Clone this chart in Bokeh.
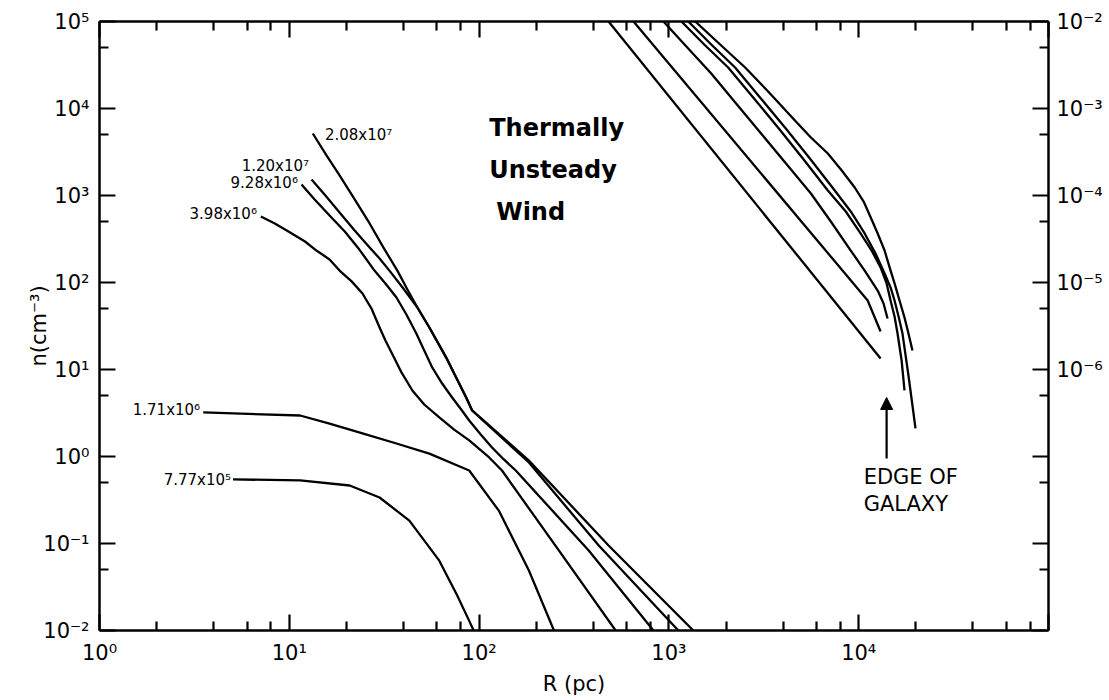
from bokeh.plotting import figure
from bokeh.models import LogAxis, Range1d, FixedTicker, Arrow, NormalHead, Label, LogScale
from bokeh.embed import file_html
from bokeh.resources import INLINE

# ---------------- data ----------------
r_777e5 = [5.05, 11.4, 20.8, 29.9, 42.9, 61.7, 76.7, 88.7, 93.6]
n_777e5 = [0.545, 0.532, 0.464, 0.338, 0.183, 0.0635, 0.0252, 0.0129, 0.01]

r_171e6 = [3.52, 11.4, 16.3, 24.3, 36.7, 54.7, 81.4, 88.7, 127, 183, 248]
n_171e6 = [3.21, 2.96, 2.39, 1.84, 1.41, 1.08, 0.748, 0.690, 0.239, 0.049, 0.01]

r_398e6 = [7.08, 8.39, 10.1, 12.1, 13.9, 16.3, 18.4, 21.3, 24.3, 27.1, 29.9, 32.1, 35.4,
           39.0, 44.5, 51.4, 61.7, 73.9, 88.7, 113, 132, 263, 524]
n_398e6 = [574, 477, 376, 296, 233, 184, 137, 103, 74.8, 50.2, 30.4, 21.5, 14.1,
           9.25, 5.74, 3.96, 2.81, 2.04, 1.53, 0.975, 0.690, 0.0832, 0.01]

r_928e6 = [11.6, 13.6, 16.3, 19.6, 23.4, 28.1, 32.1, 36.7, 41.4, 46.7, 51.4, 56.7, 63.9,
           72.1, 80.5, 88.7, 102, 117, 135, 156, 378, 829]
n_928e6 = [1340, 900, 589, 385, 239, 137, 97.5, 67.3, 42.9, 25.9, 16.5, 10.5, 6.90,
           4.77, 3.47, 2.59, 1.79, 1.27, 0.925, 0.690, 0.0832, 0.01]

r_120e7 = [13.1, 15.5, 18.4, 22.1, 26.5, 29.9, 33.7, 39.9, 47.3, 54.7, 67.1, 75.7, 85.5,
           91.9, 183, 427, 1122]
n_120e7 = [1530, 1000, 638, 396, 253, 189, 137, 85.3, 51.6, 30.4, 13.7, 8.09, 4.77,
           3.38, 0.853, 0.0948, 0.01]

r_208e7 = [13.3, 15.7, 18.4, 22.1, 26.5, 31.3, 37.1, 41.9, 47.3, 54.7, 67.1, 75.7, 85.5,
           91.9, 183, 481, 1345]
n_208e7 = [5160, 2884, 1700, 900, 477, 253, 137, 83.2, 51.6, 30.4, 13.7, 8.09, 4.77,
           3.38, 0.899, 0.0948, 0.01]

inner_r = [r_777e5, r_171e6, r_398e6, r_928e6, r_120e7, r_208e7]
inner_n = [n_777e5, n_171e6, n_398e6, n_928e6, n_120e7, n_208e7]
inner_labels = ["7.77x10\u2075", "1.71x10\u2076", "3.98x10\u2076",
                "9.28x10\u2076", "1.20x10\u2077", "2.08x10\u2077"]

r_out1 = [481, 13040]
n_out1 = [1e5, 13.4]
r_out2 = [651, 11150, 13040]
n_out2 = [1e5, 62.1, 27.3]
r_out3 = [936, 1250, 1671, 2260, 3060, 4140, 5600, 7130, 9080, 10750, 12590, 13520, 14190]
n_out3 = [1e5, 50200, 25200, 11400, 5160, 2330, 1054, 502, 233, 137, 80.9, 57.4, 38.5]
r_out4 = [1164, 1535, 2052, 2780, 3757, 5080, 6876, 8550, 10230, 11700, 13040, 14030,
          14720, 15450, 16020, 16830, 17430]
n_out4 = [1e5, 54400, 29600, 13400, 6050, 2660, 1140, 655, 366, 233, 149, 97.5,
          62.1, 40.6, 25.9, 12.7, 5.74]
r_out5 = [1265, 1671, 2233, 3020, 4090, 5530, 7480, 9080, 10750, 12270, 13690, 14720,
          15450, 16220, 17010, 18290, 19920]
n_out5 = [1e5, 54400, 29600, 13400, 6050, 2660, 1140, 655, 366, 215, 127, 87.7,
          62.1, 40.6, 25.9, 8.53, 2.10]
r_out6 = [1377, 1862, 2522, 3410, 4613, 5600, 6876, 8140, 9530, 10620, 11570, 12590,
          13690, 14550, 15450, 16410, 17430, 18290, 19200]
n_out6 = [1e5, 54400, 29600, 14900, 7280, 4640, 3040, 1940, 1236, 853, 558, 366,
          233, 149, 97.5, 62.1, 39.6, 25.9, 16.5]
outer_r = [r_out1, r_out2, r_out3, r_out4, r_out5, r_out6]
outer_n = [n_out1, n_out2, n_out3, n_out4, n_out5, n_out6]

x_tick_labels = {1: "10\u2070", 10: "10\u00b9", 100: "10\u00b2", 1000: "10\u00b3",
                 10000: "10\u2074", 100000: " "}
y_tick_labels = {0.01: "10\u207b\u00b2", 0.1: "10\u207b\u00b9", 1: "10\u2070", 10: "10\u00b9",
                 100: "10\u00b2", 1000: "10\u00b3", 10000: "10\u2074", 100000: "10\u2075"}
right_tick_labels = {1e-9: " ", 1e-8: " ", 1e-7: " ", 1e-6: "10\u207b\u2076", 1e-5: "10\u207b\u2075",
                     1e-4: "10\u207b\u2074", 1e-3: "10\u207b\u00b3", 1e-2: "10\u207b\u00b2"}

FONT = "DejaVu Sans"
p = figure(frame_width=949, frame_height=609,
           x_axis_type="log", y_axis_type="log",
           x_range=Range1d(1, 1e5), y_range=Range1d(1e-2, 1e5),
           output_backend="svg", toolbar_location=None,
           min_border_left=99, min_border_top=21, min_border_right=55, min_border_bottom=68,
           x_axis_label="R (pc)", y_axis_label="n(cm\u207b\u00b3)")
p.grid.visible = False
p.outline_line_color = None
p.background_fill_color = "white"

x_major = [1, 10, 100, 1000, 10000, 100000]
x_minor = [m * d for d in [1, 10, 100, 1000, 10000] for m in (2, 4, 6, 8)]
y_major = [0.01, 0.1, 1, 10, 100, 1000, 10000, 100000]
y_minor = [5 * d for d in [0.01, 0.1, 1, 10, 100, 1000, 10000]]
r_major = [1e-9, 1e-8, 1e-7, 1e-6, 1e-5, 1e-4, 1e-3, 1e-2]
r_minor = [5 * d for d in r_major[:-1]]


def style_axis(ax, ticker, overrides):
    ax.ticker = ticker
    if overrides:
        ax.major_label_overrides = overrides
    ax.axis_line_width = 2.5
    ax.axis_line_color = "black"
    ax.major_tick_line_width = 2.2
    ax.minor_tick_line_width = 2.2
    ax.major_tick_in = 16
    ax.major_tick_out = 0
    ax.minor_tick_in = 9
    ax.minor_tick_out = 0
    ax.major_label_text_font = FONT
    ax.major_label_text_font_size = "21px"
    ax.major_label_text_color = "black"
    ax.axis_label_text_font = FONT
    ax.axis_label_text_font_size = "21px"
    ax.axis_label_text_font_style = "normal"
    ax.axis_label_text_color = "black"


style_axis(p.xaxis[0], FixedTicker(ticks=x_major, minor_ticks=x_minor), x_tick_labels)
style_axis(p.yaxis[0], FixedTicker(ticks=y_major, minor_ticks=y_minor), y_tick_labels)
p.xaxis[0].major_label_standoff = 10
p.xaxis[0].axis_label_standoff = 4
p.yaxis[0].major_label_standoff = 10
p.yaxis[0].axis_label_standoff = -11

top = LogAxis()
style_axis(top, FixedTicker(ticks=x_major, minor_ticks=x_minor), None)
top.major_label_text_color = None
top.major_label_text_font_size = "2px"
top.major_label_standoff = 0
p.add_layout(top, "above")

p.extra_y_ranges = {"right": Range1d(1e-9, 1e-2)}
p.extra_y_scales = {"right": LogScale()}
right = LogAxis(y_range_name="right")
style_axis(right, FixedTicker(ticks=r_major, minor_ticks=r_minor), right_tick_labels)
right.major_label_standoff = 8
p.add_layout(right, "right")

for xs, ys in zip(inner_r, inner_n):
    p.line(xs, ys, line_color="black", line_width=2.3, line_join="round")
for xs, ys in zip(outer_r, outer_n):
    p.line(xs, ys, line_color="black", line_width=2.3, line_join="round")

label_specs = [
    (inner_labels[5], 15.4, 4900, "left"),
    (inner_labels[4], 12.7, 2210, "right"),
    (inner_labels[3], 11.1, 1410, "right"),
    (inner_labels[2], 6.75, 605, "right"),
    (inner_labels[1], 3.39, 3.38, "right"),
    (inner_labels[0], 4.93, 0.53, "right"),
]
for txt, x, y, al in label_specs:
    p.add_layout(Label(x=x, y=y, text=txt, text_align=al, text_baseline="middle",
                       text_font=FONT, text_font_size="15px", text_color="black"))

for txt, x, y in [("Thermally", 113, 5890), ("Unsteady", 113, 1940), ("Wind", 123, 638)]:
    p.add_layout(Label(x=x, y=y, text=txt, text_align="left", text_baseline="middle",
                       text_font=FONT, text_font_size="24px", text_font_style="bold",
                       text_color="black"))

for txt, x, y in [("EDGE OF", 10620, 0.574), ("GALAXY", 10620, 0.288)]:
    p.add_layout(Label(x=x, y=y, text=txt, text_align="left", text_baseline="middle",
                       text_font=FONT, text_font_size="21px", text_color="black"))

p.add_layout(Arrow(x_start=14030, y_start=0.948, x_end=14030, y_end=4.77,
                   line_width=2.2, line_color="black",
                   end=NormalHead(size=12, fill_color="black", line_color="black")))

open("out.html", "w").write(file_html(p, INLINE))
